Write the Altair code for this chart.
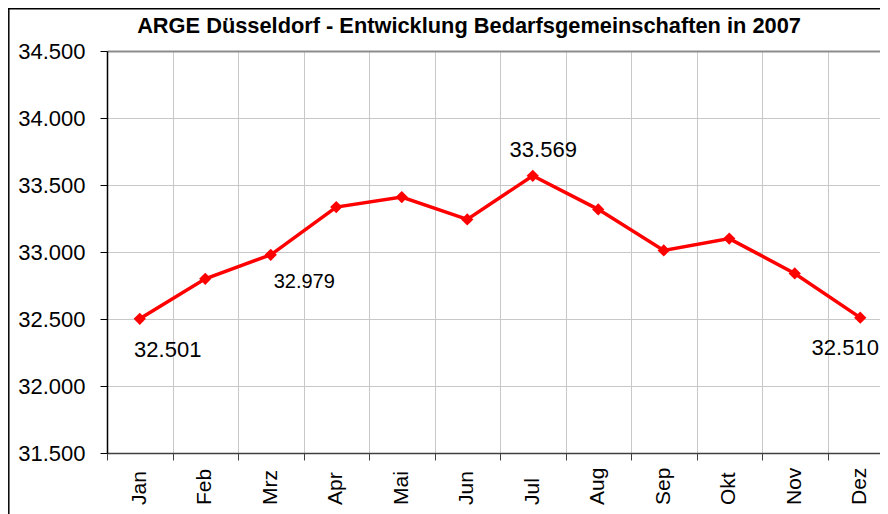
import altair as alt
import pandas as pd

months = ["Jan", "Feb", "Mrz", "Apr", "Mai", "Jun", "Jul", "Aug", "Sep", "Okt", "Nov", "Dez"]
values = [32501, 32800, 32979, 33335, 33410, 33243, 33569, 33318, 33012, 33100, 32840, 32510]
y_ticks = [31500, 32000, 32500, 33000, 33500, 34000, 34500]
title_text = "ARGE Düsseldorf - Entwicklung Bedarfsgemeinschaften in 2007"

df = pd.DataFrame({"month": months, "idx": list(range(len(months))), "value": values})

FONT = "Liberation Sans, Arial, sans-serif"
W, H = 773, 402
BAND = 65.5

x_scale = alt.Scale(domain=[-0.5, -0.5 + W / BAND], nice=False, zero=False)
y_scale = alt.Scale(domain=[31500, 34500], nice=False, zero=False)

x_axis = alt.Axis(
    values=[i - 0.5 for i in range(len(months))],
    labels=False,
    tickSize=7, tickWidth=1, tickColor="#404040",
    domainColor="#404040", domainWidth=1.5,
    grid=True, gridWidth=1, gridColor="#c8c8c8",
    title=None,
)

y_axis = alt.Axis(
    values=y_ticks,
    labelExpr="replace(format(datum.value, ','), ',', '.')",
    labelFont=FONT, labelFontSize=22, labelColor="black", labelPadding=15,
    labelFlush=False, labelOverlap=False,
    tickSize=7, tickColor="black", tickWidth=1,
    domainColor="black", domainWidth=1.5,
    grid=True,
    gridColor={"condition": {"test": "datum.value == 34500", "value": "#8c8c8c"}, "value": "#c8c8c8"},
    gridWidth={"condition": {"test": "datum.value == 34500", "value": 2}, "value": 1},
    title=None,
)

base = alt.Chart(df)

line = base.mark_line(color="#ff0000", strokeWidth=3.5).encode(
    x=alt.X("idx:Q", scale=x_scale, axis=x_axis),
    y=alt.Y("value:Q", scale=y_scale, axis=y_axis),
)

points = base.mark_point(shape="diamond", size=150, filled=True, color="#ff0000", opacity=1).encode(
    x="idx:Q", y="value:Q"
)

# month names under the axis, rotated, reading bottom to top
month_labels = base.mark_text(
    font=FONT, fontSize=21, color="black", angle=270,
    align="left", baseline="middle",
).encode(x="idx:Q", y=alt.value(H + 52), text="month:N")

label_specs = [
    ("Jan", 28, 38, 22),
    ("Mrz", 33.5, 33.5, 20),
    ("Jul", 10.5, -19, 22),
    ("Dez", -15, 37, 22),
]

labels = []
for m, dx, dy, fs in label_specs:
    labels.append(
        base.transform_filter(alt.datum.month == m)
        .transform_calculate(label="replace(format(datum.value, ','), ',', '.')")
        .mark_text(dx=dx, dy=dy, fontSize=fs, font=FONT, align="center",
                   baseline="alphabetic", color="black")
        .encode(x="idx:Q", y="value:Q", text="label:N")
    )

frame_df = pd.DataFrame({"title": [title_text]})
left_border = alt.Chart(frame_df).mark_rule(color="black", strokeWidth=1.5).encode(
    x=alt.value(-98.2), y=alt.value(-43), y2=alt.value(470)
)
top_border = alt.Chart(frame_df).mark_rule(color="black", strokeWidth=1.5).encode(
    y=alt.value(-42.3), x=alt.value(-99), x2=alt.value(W)
)
title_mark = alt.Chart(frame_df).mark_text(
    font=FONT, fontSize=21.8, fontWeight="bold", color="black",
    align="center", baseline="alphabetic",
).encode(text="title:N", x=alt.value(362), y=alt.value(-18))

chart = alt.layer(line, points, month_labels, *labels, left_border, top_border, title_mark).properties(
    width=W, height=H,
    autosize=alt.AutoSizeParams(type="none"),
    padding={"left": 99, "top": 43, "right": 0, "bottom": 61},
).configure_view(stroke=None)

chart.save("out.html", embed_options={"renderer": "svg", "actions": False})
